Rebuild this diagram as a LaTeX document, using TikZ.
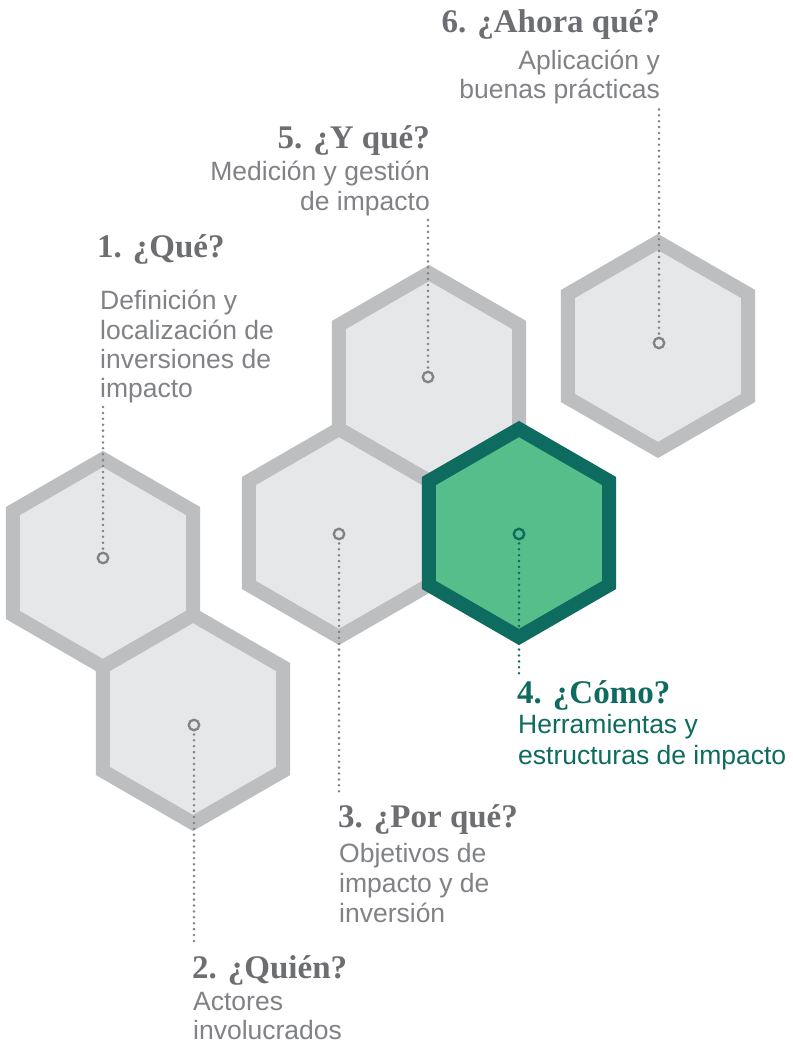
\documentclass[tikz,border=0pt]{standalone}
\usepackage{fontspec}
\setmainfont{Liberation Sans}
\newfontfamily\serifbold{Liberation Serif}
\usetikzlibrary{calc}
\definecolor{hexfill}{HTML}{E6E7E8}
\definecolor{hexline}{HTML}{BCBEC0}
\definecolor{greenfill}{HTML}{55BE8A}
\definecolor{darkgreen}{HTML}{0E6B5F}
\definecolor{titlegray}{HTML}{6D6E71}
\definecolor{bodygray}{HTML}{808285}
\definecolor{dotgray}{HTML}{808285}
\newcommand\hexshape[2]{\draw[#2] ($(#1)+(90:104)$) -- ($(#1)+(150:104)$) -- ($(#1)+(210:104)$) -- ($(#1)+(270:104)$) -- ($(#1)+(330:104)$) -- ($(#1)+(30:104)$) -- cycle;}
\begin{document}
\begin{tikzpicture}[x=1pt,y=-1pt,
  hexgray/.style={fill=hexfill, draw=hexline, line width=14pt, line join=miter},
  hexgreen/.style={fill=greenfill, draw=darkgreen, line width=14pt, line join=miter},
  marker/.style={circle, draw=dotgray, fill=hexfill, line width=2.3pt, minimum size=10.5pt, inner sep=0pt},
  markergreen/.style={marker, draw=darkgreen, fill=greenfill},
  dots/.style={draw=dotgray, line width=2.8pt, line cap=round, dash pattern=on 0pt off 5.9pt},
  dotsgreen/.style={dots, draw=darkgreen},
  title/.style={font=\serifbold\bfseries\fontsize{33}{36}\selectfont, text=titlegray, inner sep=0pt},
  titlegreen/.style={title, text=darkgreen},
  body/.style={font=\fontsize{26.5}{30}\selectfont, text=bodygray, inner sep=0pt},
  bodygreen/.style={body, text=darkgreen},
]
\fill[white] (0,0) rectangle (792,1048);
\useasboundingbox (0,0) rectangle (792,1048);

% hexagon centres
\coordinate (h1) at (103,563);
\coordinate (h2) at (193,719);
\coordinate (h3) at (339,533);
\coordinate (h4) at (519,533);
\coordinate (h5) at (429,377);
\coordinate (h6) at (658,346);

\hexshape{h1}{hexgray}
\hexshape{h2}{hexgray}
\hexshape{h5}{hexgray}
\hexshape{h3}{hexgray}
\hexshape{h6}{hexgray}
\hexshape{h4}{hexgreen}

% markers
\node[marker] (c1) at (103,558) {};
\node[marker] (c2) at (194,725) {};
\node[marker] (c3) at (339,534) {};
\node[markergreen] (c4) at (519,534) {};
\node[marker] (c5) at (428,377) {};
\node[marker] (c6) at (659,343) {};

% free ends of the dotted leaders
\coordinate (e1) at (103,405);
\coordinate (e2) at (194,945);
\coordinate (e3) at (339,796);
\coordinate (e4) at (519,675);
\coordinate (e5) at (428,219);
\coordinate (e6) at (659,108);

\draw[dots] ([yshift=3pt]c1.north) -- (e1);
\draw[dots] ([yshift=-3pt]c2.south) -- (e2);
\draw[dots] ([yshift=-3pt]c3.south) -- (e3);
\draw[dotsgreen] ([yshift=-3pt]c4.south) -- (e4);
\draw[dots] ([yshift=3pt]c5.north) -- (e5);
\draw[dots] ([yshift=3pt]c6.north) -- (e6);

% texts
\node[title, anchor=base east] (t6) at (660,33) {6. ¿Ahora qué?};
\node[body, anchor=base east] (t6a) at (660,70) {Aplicación y};
\node[body, anchor=base east] (t6b) at (660,99) {buenas prácticas};

\node[title, anchor=base east] (t5) at (430,149) {5. ¿Y qué?};
\node[body, anchor=base east] (t5a) at (430,181) {Medición y gestión};
\node[body, anchor=base east] (t5b) at (430,211) {de impacto};

\node[title, anchor=base west] (t1) at (97,258) {1. ¿Qué?};
\node[body, anchor=base west] (t1a) at (100,309) {Definición y};
\node[body, anchor=base west] (t1b) at (100,339) {localización de};
\node[body, anchor=base west] (t1c) at (100,368) {inversiones de};
\node[body, anchor=base west] (t1d) at (100,397) {impacto};

\node[titlegreen, anchor=base west] (t4) at (517,703) {4. ¿Cómo?};
\node[bodygreen, anchor=base west] (t4a) at (518,733) {Herramientas y};
\node[bodygreen, anchor=base west] (t4b) at (518,764) {estructuras de impacto};

\node[title, anchor=base west] (t3) at (338,827) {3. ¿Por qué?};
\node[body, anchor=base west] (t3a) at (339,862) {Objetivos de};
\node[body, anchor=base west] (t3b) at (339,892) {impacto y de};
\node[body, anchor=base west] (t3c) at (339,922) {inversión};

\node[title, anchor=base west] (t2) at (192,978) {2. ¿Quién?};
\node[body, anchor=base west] (t2a) at (193,1010) {Actores};
\node[body, anchor=base west] (t2b) at (193,1039) {involucrados};
\end{tikzpicture}
\end{document}
